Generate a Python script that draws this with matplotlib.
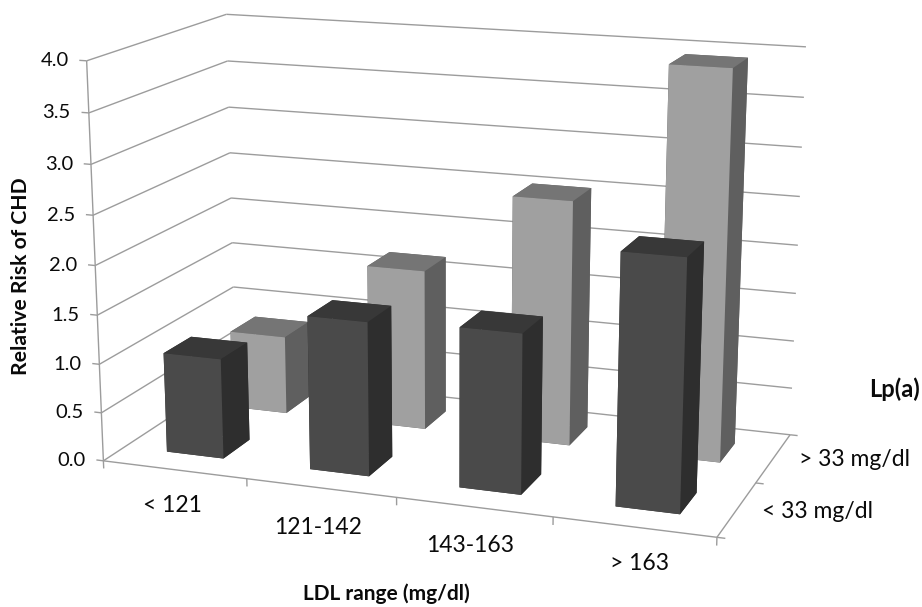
import numpy as np
import matplotlib
matplotlib.use('Agg')
import matplotlib.pyplot as plt

W, H = 922, 607

ldl_labels = ['< 121', '121-142', '143-163', '> 163']
lpa_labels = ['< 33 mg/dl', '> 33 mg/dl']
risk_low_lpa = [1.03, 1.56, 1.6, 2.47]
risk_high_lpa = [0.83, 1.68, 2.53, 3.94]
z_ticks = [0.0, 0.5, 1.0, 1.5, 2.0, 2.5, 3.0, 3.5, 4.0]

# faces: bottom, top, front, back, left, right
dark_faces = ['#2e2e2e', '#383838', '#4a4a4a', '#2e2e2e', '#2e2e2e', '#2e2e2e']
light_faces = ['#5f5f5f', '#757575', '#a0a0a0', '#5f5f5f', '#5f5f5f', '#5f5f5f']
grid_color = '#9c9c9c'
text_color = '#0a0a0a'

plt.rcParams['font.family'] = ['Lato', 'DejaVu Sans']

# Excel-style camera, fitted on the corners of the chart box (pixels)
world = np.array([(0, 0, 0), (4, 0, 0), (0, 2, 0), (4, 2, 0), (0, 0, 4), (0, 2, 4), (4, 2, 4)], float)
pixels = np.array([(103, 460), (717, 538), (236, 375), (790, 434), (87, 61), (226, 14), (806, 47)], float)


def fit_camera(world, pixels):
    rows = []
    rhs = []
    for (x, y, z), (u, v) in zip(world, pixels):
        rows.append([x, y, z, 1, 0, 0, 0, 0, -u * x, -u * y, -u * z])
        rows.append([0, 0, 0, 0, x, y, z, 1, -v * x, -v * y, -v * z])
        rhs += [u, v]
    p = np.linalg.lstsq(np.array(rows), np.array(rhs), rcond=None)[0]
    return np.append(p, 1).reshape(3, 4)


cam = fit_camera(world, pixels)


def to_px(x, y, z):
    u, v, w = cam @ np.array([x, y, z, 1.0])
    return u / w, v / w


def fig_text(u, v, s, **kw):
    return fig.text(u / W, 1 - v / H, s, color=text_color, **kw)


fig = plt.figure(figsize=(W / 100, H / 100), dpi=100)
ax = fig.add_axes([0, 0, 1, 1], projection='3d', computed_zorder=False)
ax.set_axis_off()


def get_proj():
    # data -> picture pixels -> display -> the 2d coords the 3d axes draws in
    to_disp = np.array([[1, 0, 0], [0, -1, H], [0, 0, 1]], float)
    to_disp = np.diag([fig.bbox.width / W, fig.bbox.height / H, 1]) @ to_disp
    m = ax.transData.inverted().get_matrix() @ to_disp @ cam
    # third row is only the sort depth, kept negative or lines get dropped
    depth = np.array([-0.3, 1, -0.1, 0]) - 10 * m[2]
    return np.array([m[0], m[1], depth, m[2]])


ax.get_proj = get_proj


def line3(xs, ys, zs, lw=1.0, zorder=1):
    ax.plot(xs, ys, zs, color=grid_color, lw=lw, clip_on=False, zorder=zorder, solid_capstyle='butt')


# walls
for z in z_ticks:
    line3([0, 0], [0, 2], [z, z])
    line3([0, 4], [2, 2], [z, z])
    line3([-0.05, 0], [0, 0], [z, z])
line3([0, 0], [0, 0], [0, 4])

# floor
line3([0, 4], [0, 0], [0, 0])
line3([4, 4], [0, 2], [0, 0])
for i in range(5):
    line3([i, i], [0, 0], [-0.08, 0])
for j in range(3):
    line3([4, 4.05], [j, j], [0, 0])

# bars, back row first
bar_w = 0.4
order = 10
for row, (values, faces) in enumerate([(risk_high_lpa, light_faces), (risk_low_lpa, dark_faces)]):
    y0 = (1 - row) + 0.3
    for i, val in enumerate(values):
        col = ax.bar3d(i + 0.3, y0, 0, bar_w, bar_w, val, color=faces, shade=False,
                       linewidth=0, clip_on=False, zorder=order)
        col.set_clip_on(False)
        order += 1

for z in z_ticks:
    u, v = to_px(0, 0, z)
    fig_text(u - 18, v, '%.1f' % z, ha='right', va='center', fontsize=14.5)

ldl_pos = [(172, 505), (318, 527), (470, 546), (639, 564)]
for s, (u, v) in zip(ldl_labels, ldl_pos):
    fig_text(u, v, s, ha='center', va='center', fontsize=16.5)

lpa_pos = [(762, 511), (799, 459)]
for s, (u, v) in zip(lpa_labels, lpa_pos):
    fig_text(u, v, s, ha='left', va='center', fontsize=16.5)

fig_text(21, 276, 'Relative Risk of CHD', rotation=90, ha='center', va='center', fontsize=15.2, fontweight='bold')
fig_text(386, 594, 'LDL range (mg/dl)', ha='center', va='center', fontsize=15, fontweight='bold')
fig_text(894, 389, 'Lp(a)', ha='center', va='center', fontsize=17, fontweight='bold')

fig.savefig('out.png', dpi=100)
